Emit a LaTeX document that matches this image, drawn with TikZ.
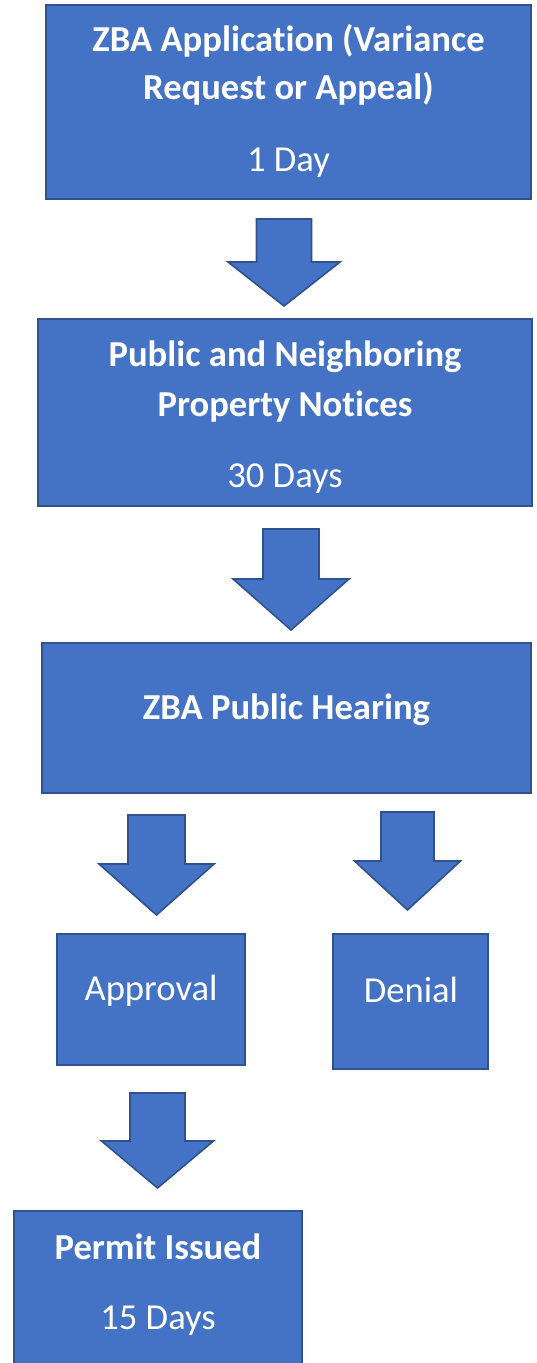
\documentclass[tikz,border=0pt]{standalone}
\usepackage{fontspec}
\setmainfont[Ligatures=NoCommon]{Carlito}
\usetikzlibrary{fit}
\definecolor{boxfill}{HTML}{4472C4}
\definecolor{boxline}{HTML}{2F528F}
\tikzset{
	box/.style={draw=boxline, fill=boxfill, line width=0.8pt, inner sep=0pt},
	label/.style={text=white, inner sep=0pt, anchor=base, font=\fontsize{18.3}{22}\selectfont},
	boldlabel/.style={label, font=\fontsize{18.3}{22}\selectfont\bfseries},
	blockarrow/.style={draw=boxline, fill=boxfill, line width=0.8pt, line join=miter}
}
% #1 centre x, #2 top, #3 neck, #4 tip, #5 half shaft, #6 half head
\newcommand{\downblock}[6]{%
	\filldraw[blockarrow] (#1-#5,#2) -- (#1+#5,#2) -- (#1+#5,#3) -- (#1+#6,#3)
		-- (#1,#4) -- (#1-#6,#3) -- (#1-#5,#3) -- cycle;}
\begin{document}
\begin{tikzpicture}[x=0.5pt, y=-0.5pt]
	\useasboundingbox (0,0) rectangle (536,1363);
	% boxes
	\node[box, fit={(46,5) (531,199)}] (app) {};
	\node[box, fit={(38,319) (532,506)}] (notice) {};
	\node[box, fit={(42,643) (531,793)}] (hearing) {};
	\node[box, fit={(57,934) (245,1065)}] (approval) {};
	\node[box, fit={(333,934) (488,1069)}] (denial) {};
	\node[box, fit={(14,1211) (302,1380)}] (permit) {};
	% texts
	\node[boldlabel] (appA) at (288.5,52) {ZBA Application (Variance};
	\node[boldlabel] (appB) at (288.5,100) {Request or Appeal)};
	\node[label] (appC) at (288.5,172) {1 Day};
	\node[boldlabel] (noticeA) at (285,367) {Public and Neighboring};
	\node[boldlabel] (noticeB) at (285,416) {Property Notices};
	\node[label] (noticeC) at (285,487) {30 Days};
	\node[boldlabel] (hearingA) at (286.5,719) {ZBA Public Hearing};
	\node[label] (approvalA) at (151,1000) {Approval};
	\node[label] (denialA) at (411,1002) {Denial};
	\node[boldlabel] (permitA) at (158,1259) {Permit Issued};
	\node[label] (permitB) at (158,1329) {15 Days};
	% arrows
	\downblock{284}{219}{262}{306}{27.5}{56}
	\downblock{291}{529}{579}{630}{28}{58}
	\downblock{156.5}{815}{864}{915}{28.5}{57.5}
	\downblock{407.5}{812}{861}{910}{26.5}{53}
	\downblock{157.5}{1093}{1141}{1188}{27.5}{56}
\end{tikzpicture}
\end{document}
